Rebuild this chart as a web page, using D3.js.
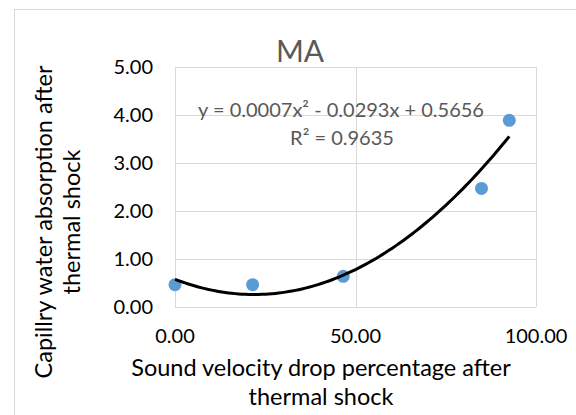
<!DOCTYPE html>
<html><head><meta charset="utf-8">
<script src="https://cdn.jsdelivr.net/npm/d3@7"></script>
<style>body{margin:0;background:#fff}svg{display:block}text{font-family:Lato,"Open Sans",sans-serif}</style>
</head><body><svg id="c" width="576" height="415"></svg>
<script>
const xVals = [0.0, 21.5, 46.6, 84.9, 92.6];
const yVals = [0.465, 0.465, 0.64, 2.47, 3.89];
const xTicks = [0, 50, 100];
const yTicks = [0, 1, 2, 3, 4, 5];
const title = "MA";
const eqLabel = "y = 0.0007x² - 0.0293x + 0.5656";
const r2Label = "R² = 0.9635";
const xTitle = ["Sound velocity drop percentage after", "thermal shock"];
const yTitle = ["Capillry water absorption after", "thermal shock"];

const svg = d3.select("#c");
const x = d3.scaleLinear().domain([0, 100]).range([175, 536]);
const y = d3.scaleLinear().domain([0, 5]).range([307, 67]);

svg.append("rect").attr("x", 14.5).attr("y", 9.5).attr("width", 700).attr("height", 600)
  .attr("fill", "#fff").attr("stroke", "#d9d9d9");

// gridlines
svg.append("g").selectAll("line").data(yTicks).join("line")
  .attr("x1", x(0)).attr("x2", x(100)).attr("y1", d => Math.round(y(d)) + 0.5).attr("y2", d => Math.round(y(d)) + 0.5)
  .attr("stroke", "#d9d9d9");
svg.append("g").selectAll("line").data(xTicks).join("line")
  .attr("y1", y(0)).attr("y2", y(5)).attr("x1", d => Math.round(x(d)) + 0.5).attr("x2", d => Math.round(x(d)) + 0.5)
  .attr("stroke", "#d9d9d9");

// tick labels
svg.append("g").selectAll("text").data(yTicks).join("text")
  .attr("x", 153).attr("y", d => y(d)).attr("dy", "0.35em").attr("text-anchor", "end")
  .attr("font-size", 20).attr("fill", "#000").text(d => d3.format(".2f")(d));
svg.append("g").selectAll("text").data(xTicks).join("text")
  .attr("x", d => x(d)).attr("y", 343).attr("text-anchor", "middle")
  .attr("font-size", 20).attr("fill", "#000").text(d => d3.format(".2f")(d));

// points
const pts = xVals.map((v, i) => [v, yVals[i]]);
svg.append("g").selectAll("circle").data(pts).join("circle")
  .attr("cx", d => x(d[0])).attr("cy", d => y(d[1])).attr("r", 6.5).attr("fill", "#5b9bd5");

// quadratic least squares fit
function polyfit2(xs, ys) {
  let S = [0,0,0,0,0], T = [0,0,0];
  xs.forEach((xv, i) => { for (let k = 0; k < 5; k++) S[k] += Math.pow(xv, k); for (let k = 0; k < 3; k++) T[k] += ys[i] * Math.pow(xv, k); });
  const A = [[S[0],S[1],S[2],T[0]],[S[1],S[2],S[3],T[1]],[S[2],S[3],S[4],T[2]]];
  for (let i = 0; i < 3; i++) { for (let j = i+1; j < 3; j++) { const f = A[j][i]/A[i][i]; for (let k = i; k < 4; k++) A[j][k] -= f*A[i][k]; } }
  const c = [0,0,0];
  for (let i = 2; i >= 0; i--) { let s = A[i][3]; for (let k = i+1; k < 3; k++) s -= A[i][k]*c[k]; c[i] = s/A[i][i]; }
  return c;
}
const c = polyfit2(xVals, yVals);
const xmin = d3.min(xVals), xmax = d3.max(xVals);
const curve = d3.range(0, 101).map(i => { const xv = xmin + (xmax - xmin) * i / 100; return [xv, c[0] + c[1]*xv + c[2]*xv*xv]; });
svg.append("path").datum(curve).attr("fill", "none").attr("stroke", "#000").attr("stroke-width", 3)
  .attr("d", d3.line().x(d => x(d[0])).y(d => y(d[1])));

// labels
svg.append("text").attr("x", 341).attr("y", 117).attr("text-anchor", "middle").attr("font-size", 20).attr("fill", "#595959").text(eqLabel);
svg.append("text").attr("x", 342).attr("y", 145).attr("text-anchor", "middle").attr("font-size", 20).attr("fill", "#595959").text(r2Label);

svg.append("text").attr("x", 300).attr("y", 62).attr("text-anchor", "middle").attr("font-size", 30).attr("fill", "#595959").text(title);

svg.append("g").selectAll("text").data(xTitle).join("text")
  .attr("x", 321).attr("y", (d, i) => 376 + i * 29).attr("text-anchor", "middle")
  .attr("font-size", 23.5).attr("fill", "#000").text(d => d);
svg.append("g").selectAll("text").data(yTitle).join("text")
  .attr("transform", (d, i) => `translate(${52 + i * 28},222) rotate(-90)`).attr("text-anchor", "middle")
  .attr("font-size", 23.5).attr("fill", "#000").text(d => d);
</script></body></html>
